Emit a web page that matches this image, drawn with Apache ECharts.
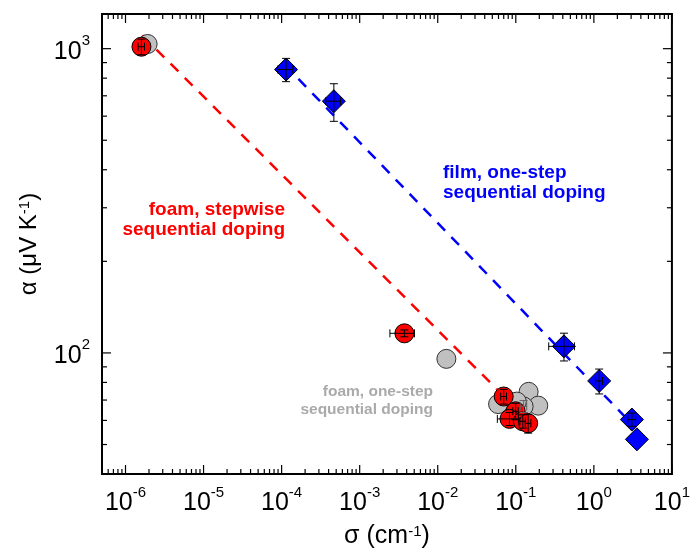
<!DOCTYPE html>
<html><head><meta charset="utf-8">
<script src="https://cdn.jsdelivr.net/npm/echarts@6/dist/echarts.min.js"></script>
<style>html,body{margin:0;padding:0;background:#fff}#c{width:693px;height:554px}</style>
</head><body><div id="c"></div>
<script>
// axis ranges and tick labels
const xRange = [5e-7, 10];
const yRange = [40, 1300];
const xTickExponents = [-6, -5, -4, -3, -2, -1, 0, 1];
const yTickExponents = [2, 3];
const minorMantissas = [2, 3, 4, 5, 6, 7, 8, 9];

// foam, stepwise sequential doping (red)
const stepSigma = [1.6e-6, 3.74e-3, 0.070, 0.0995, 0.083, 0.123, 0.144];
const stepAlpha = [1015, 116, 71.9, 64.3, 60.7, 59.6, 58.7];
const stepSigmaErr = [1.5e-7, 1.3e-3, 0.006, 0.008, 0.025, 0.01, 0.012];
const stepAlphaErr = [60, 3, 4, 4, 3, 3, 4.2];

// foam, one-step sequential doping (grey)
const oneSigma = [1.92e-6, 0.0129, 0.146, 0.0593, 0.194, 0.126, 0.103];
const oneAlpha = [1036, 95.6, 74.5, 67.9, 67.1, 66.7, 69.2];
const oneSigmaErr = [0, 0, 0, 0, 0, 0.012, 0];
const oneAlphaErr = [0, 0, 0, 0, 0, 3, 0];

// film, one-step sequential doping (blue)
const filmSigma = [1.14e-4, 4.67e-4, 0.414, 1.17, 3.07, 3.56];
const filmAlpha = [854, 672, 105.1, 80.9, 60.4, 52.0];
const filmSigmaErr = [2.5e-5, 1e-4, 0.15, 0.12, 0.35, 0];
const filmAlphaErr = [75, 95, 11, 7.6, 3, 0];

// dashed guide lines (end points)
const stepFitSigma = [1.64e-6, 0.0576];
const stepFitAlpha = [1105, 75.9];
const filmFitSigma = [1.09e-4, 3.10];
const filmFitAlpha = [887, 58.3];

const FONT = 'Liberation Sans, Arial, sans-serif';
const zip = (a, b) => a.map((v, i) => [v, b[i]]);
const zip4 = (a, b, c, d) => a.map((v, i) => [v, b[i], c[i], d[i]]);

// tick items: [x, y, kind(0 = x tick, 1 = y tick), major]
const tickData = [];
xTickExponents.forEach(e => tickData.push([Math.pow(10, e), yRange[0], 0, 1]));
yTickExponents.forEach(e => tickData.push([xRange[0], Math.pow(10, e), 1, 1]));
for (let e = -7; e <= 0; e++) minorMantissas.forEach(m => {
  const v = m * Math.pow(10, e);
  if (v > xRange[0] && v < xRange[1]) tickData.push([v, yRange[0], 0, 0]);
});
for (let e = 1; e <= 3; e++) minorMantissas.forEach(m => {
  const v = m * Math.pow(10, e);
  if (v > yRange[0] && v < yRange[1]) tickData.push([xRange[0], v, 1, 0]);
});

function isPow(v, list) {
  const l = Math.log10(v), e = Math.round(l);
  return Math.abs(l - e) < 1e-6 && list.indexOf(e) >= 0 ? e : null;
}
const richTick = {
  b: { fontSize: 25, fontFamily: FONT, color: '#000', lineHeight: 31, verticalAlign: 'bottom' },
  s: { fontSize: 15, fontFamily: FONT, color: '#000', lineHeight: 15, verticalAlign: 'top' }
};

function errRender(color) {
  return function (params, api) {
    const x = api.value(0), y = api.value(1), dx = api.value(2), dy = api.value(3);
    const st = { stroke: color, lineWidth: 1 };
    const ch = [];
    const cap = 4;
    if (dy > 0) {
      const a = api.coord([x, y - dy]), b = api.coord([x, y + dy]);
      ch.push({ type: 'line', shape: { x1: a[0], y1: a[1], x2: b[0], y2: b[1] }, style: st });
      ch.push({ type: 'line', shape: { x1: a[0] - cap, y1: a[1], x2: a[0] + cap, y2: a[1] }, style: st });
      ch.push({ type: 'line', shape: { x1: b[0] - cap, y1: b[1], x2: b[0] + cap, y2: b[1] }, style: st });
    }
    if (dx > 0) {
      const a = api.coord([x - dx, y]), b = api.coord([x + dx, y]);
      ch.push({ type: 'line', shape: { x1: a[0], y1: a[1], x2: b[0], y2: b[1] }, style: st });
      ch.push({ type: 'line', shape: { x1: a[0], y1: a[1] - cap, x2: a[0], y2: a[1] + cap }, style: st });
      ch.push({ type: 'line', shape: { x1: b[0], y1: b[1] - cap, x2: b[0], y2: b[1] + cap }, style: st });
    }
    return { type: 'group', children: ch };
  };
}

const chart = echarts.init(document.getElementById('c'));
chart.setOption({
  backgroundColor: '#fff',
  animation: false,
  grid: { left: 102, right: 16, top: 14, bottom: 78, show: true, borderColor: '#000', borderWidth: 2, backgroundColor: 'transparent' },
  xAxis: {
    type: 'log', logBase: 10, min: xRange[0], max: xRange[1],
    axisLine: { show: false }, axisTick: { show: false }, splitLine: { show: false },
    axisLabel: {
      margin: 11,
      formatter: v => { const e = isPow(v, xTickExponents); return e === null ? '' : '{b|10}{s|' + e + '}'; },
      rich: richTick
    },
    name: 'σ (cm{s|-1})', nameLocation: 'middle', nameGap: 50,
    nameTextStyle: { fontSize: 25, fontFamily: FONT, color: '#000',
      rich: { s: { fontSize: 15, fontFamily: FONT, color: '#000', verticalAlign: 'top', lineHeight: 15 } } }
  },
  yAxis: {
    type: 'log', logBase: 10, min: yRange[0], max: yRange[1],
    axisLine: { show: false }, axisTick: { show: false }, splitLine: { show: false },
    axisLabel: {
      margin: 12,
      formatter: v => { const e = isPow(v, yTickExponents); return e === null ? '' : '{b|10}{s|' + e + '}'; },
      rich: richTick
    },
    name: 'α (μV K{s|-1})', nameLocation: 'middle', nameGap: 61,
    nameTextStyle: { fontSize: 24, fontFamily: FONT, color: '#000',
      rich: { s: { fontSize: 15, fontFamily: FONT, color: '#000', verticalAlign: 'top', lineHeight: 15 } } }
  },
  series: [
    { type: 'line', data: zip(stepFitSigma, stepFitAlpha), symbol: 'none', z: 2,
      lineStyle: { color: '#ff0000', width: 2.5, type: [11, 9] } },
    { type: 'line', data: zip(filmFitSigma, filmFitAlpha), symbol: 'none', z: 2,
      lineStyle: { color: '#0000ff', width: 2.5, type: [11, 9] } },
    { type: 'scatter', data: zip(oneSigma, oneAlpha), symbol: 'circle', symbolSize: 19, z: 3,
      itemStyle: { color: '#c0c0c0', borderColor: '#303030', borderWidth: 1, opacity: 1 } },
    { type: 'scatter', data: zip(stepSigma, stepAlpha), symbol: 'circle', symbolSize: 19, z: 4,
      itemStyle: { color: '#ff0000', borderColor: '#000', borderWidth: 1, opacity: 1 } },
    { type: 'scatter', data: zip(filmSigma, filmAlpha), symbol: 'diamond', symbolSize: [23, 23], z: 4,
      itemStyle: { color: '#0000ff', borderColor: '#000', borderWidth: 1, opacity: 1 } },
    { type: 'custom', data: zip4(oneSigma, oneAlpha, oneSigmaErr, oneAlphaErr), renderItem: errRender('#606060'),
      encode: { x: 0, y: 1 }, clip: false, z: 5 },
    { type: 'custom', data: zip4(stepSigma, stepAlpha, stepSigmaErr, stepAlphaErr), renderItem: errRender('#000'),
      encode: { x: 0, y: 1 }, clip: false, z: 5 },
    { type: 'custom', data: zip4(filmSigma, filmAlpha, filmSigmaErr, filmAlphaErr), renderItem: errRender('#000'),
      encode: { x: 0, y: 1 }, clip: false, z: 5 },
    { type: 'custom', data: tickData, encode: { x: 0, y: 1 }, clip: false, z: 6, silent: true,
      renderItem: function (params, api) {
        const kind = api.value(2), major = api.value(3);
        const len = major ? 9 : 5;
        const st = { stroke: '#000', lineWidth: 1.2 };
        if (kind === 0) {
          const b = api.coord([api.value(0), yRange[0]]), t = api.coord([api.value(0), yRange[1]]);
          return { type: 'group', children: [
            { type: 'line', shape: { x1: b[0], y1: b[1], x2: b[0], y2: b[1] - len }, style: st },
            { type: 'line', shape: { x1: t[0], y1: t[1], x2: t[0], y2: t[1] + len }, style: st }] };
        }
        const l = api.coord([xRange[0], api.value(1)]), r = api.coord([xRange[1], api.value(1)]);
        return { type: 'group', children: [
          { type: 'line', shape: { x1: l[0], y1: l[1], x2: l[0] + len, y2: l[1] }, style: st },
          { type: 'line', shape: { x1: r[0], y1: r[1], x2: r[0] - len, y2: r[1] }, style: st }] };
      } }
  ],
  graphic: [
    { type: 'text', x: 285, y: 200, z: 10, style: { text: 'foam, stepwise\nsequential doping', align: 'right', verticalAlign: 'top',
      fill: '#ff0000', font: 'bold 19px ' + FONT, lineHeight: 20 } },
    { type: 'text', x: 443, y: 163, z: 10, style: { text: 'film, one-step\nsequential doping', align: 'left', verticalAlign: 'top',
      fill: '#0000ff', font: 'bold 19px ' + FONT, lineHeight: 20 } },
    { type: 'text', x: 433, y: 382, z: 10, style: { text: 'foam, one-step\nsequential doping', align: 'right', verticalAlign: 'top',
      fill: '#aaaaaa', font: 'bold 15.5px ' + FONT, lineHeight: 18.5 } }
  ]
});
</script>
</body></html>
